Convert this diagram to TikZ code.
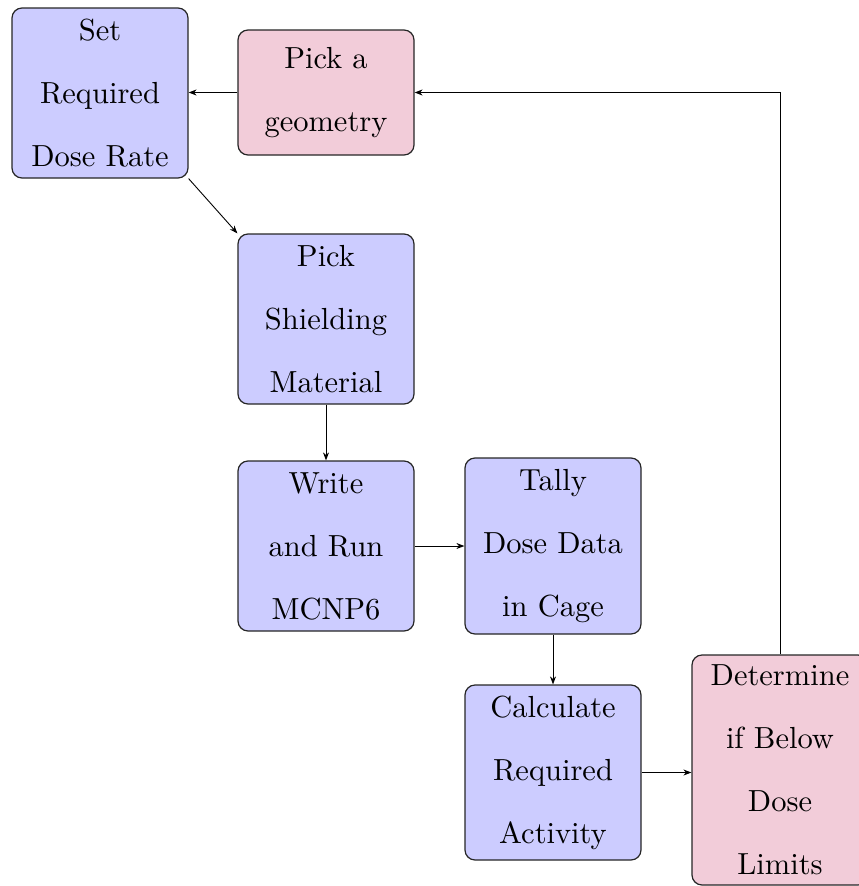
\documentclass[tikz,border=0pt]{standalone}
\usepackage{fontspec}
\setmainfont{lmroman10-regular}[Extension=.otf]
\usetikzlibrary{arrows.meta}
\begin{document}
\begin{tikzpicture}[x=1pt,y=-1pt,
  box/.style={draw=black!85, line width=1.2pt, rounded corners=10pt, fill=blue!20,
    minimum width=176pt, inner sep=0pt, align=center,
    font=\fontsize{30.5}{63}\selectfont},
  pinkbox/.style={box, fill=purple!20},
  conn/.style={line width=0.9pt, -{Stealth[length=8pt,width=6pt]}}]
\useasboundingbox (0,0) rectangle (859,886);
\node[box, minimum height=170pt] (set) at (100,93) {Set\\Required\\Dose Rate};
\node[pinkbox, minimum height=125pt] (geo) at (326,92.5) {Pick a\\geometry};
\node[box, minimum height=170pt] (shield) at (326,319) {Pick\\Shielding\\Material};
\node[box, minimum height=170pt] (write) at (326,546) {Write\\and Run\\MCNP6};
\node[box, minimum height=176pt] (tally) at (553,546) {Tally\\Dose Data\\in Cage};
\node[box, minimum height=175pt] (calc) at (553,772.5) {Calculate\\Required\\Activity};
\node[pinkbox, minimum height=230pt] (det) at (780,770) {Determine\\if Below\\Dose\\Limits};
\draw[conn] (geo.west) -- (set.east |- geo.west);
\draw[conn] (set.south east) -- (shield.north west);
\draw[conn] (shield) -- (write);
\draw[conn] (write) -- (tally);
\draw[conn] (tally) -- (calc);
\draw[conn] (calc.east) -- (calc.east -| det.west);
\draw[conn] (det.north) |- (geo.east);
\end{tikzpicture}
\end{document}
